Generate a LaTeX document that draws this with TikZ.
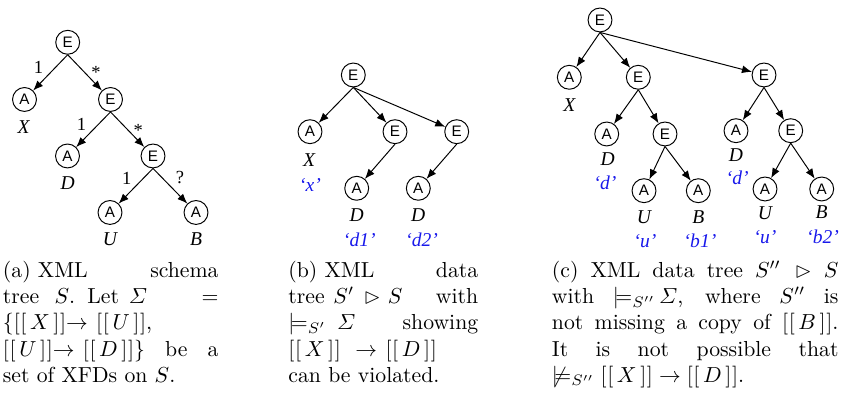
\documentclass[tikz,border=0pt]{standalone}
\usepackage{amsmath,amssymb}
\usepackage{fontspec}
\newfontfamily\nodefont{Liberation Sans}
\newfontfamily\labfont{Liberation Serif}
\usetikzlibrary{arrows.meta}
\definecolor{valblue}{RGB}{25,25,235}
\newcommand{\dbr}[1]{[\kern0.3pt[\,#1\,]\kern0.3pt]}
\newcommand{\capl}[2]{\hbox to #1{#2}}
\newcommand{\capsp}[1]{\hskip 3.33pt plus #1fil\relax}
\begin{document}
\begin{tikzpicture}[x=0.46pt,y=-0.46pt,
  enode/.style={circle,draw,line width=0.45pt,minimum size=11pt,inner sep=0pt,font=\nodefont\fontsize{7}{8}\selectfont},
  edge/.style={line width=0.45pt,-{Latex[length=4.6pt,width=3.6pt]}},
  lab/.style={inner sep=0pt,font=\labfont\itshape\fontsize{9}{10}\selectfont},
  val/.style={lab,text=valblue},
  elab/.style={inner sep=0pt,font=\labfont\fontsize{8.5}{9}\selectfont},
  capline/.style={anchor=base west,inner sep=0pt,font=\fontsize{10}{12}\selectfont}]
\useasboundingbox (0,0) rectangle (851,406);

% ---------- tree (a)
\node[enode] (ra) at (67.7,42.3) {E};
\node[enode] (a1) at (24.5,99.5) {A};
\node[enode] (a2) at (110.5,99.5) {E};
\node[enode] (a21) at (67.5,156) {A};
\node[enode] (a22) at (153,156) {E};
\node[enode] (a221) at (110,212.5) {A};
\node[enode] (a222) at (196,212.5) {A};
\node[lab] (lX) at (23.5,126.7) {X};
\node[lab] (lD) at (67.7,182.7) {D};
\node[lab] (lU) at (110,239.3) {U};
\node[lab] (lB) at (196,239.3) {B};
\draw[edge] (ra.south) -- (a1);
\draw[edge] (ra.south) -- (a2);
\draw[edge] (a2.south) -- (a21);
\draw[edge] (a2.south) -- (a22);
\draw[edge] (a22.south) -- (a221);
\draw[edge] (a22.south) -- (a222);
\node[elab] (e1) at (38.5,67.5) {1};
\node[elab] (e2) at (96,72) {*};
\node[elab] (e3) at (81.5,124.5) {1};
\node[elab] (e4) at (138.3,130) {*};
\node[elab] (e5) at (126.7,178) {1};
\node[elab] (e6) at (180,178) {?};

% ---------- tree (b)
\node[enode] (rb) at (353.3,75) {E};
\node[enode] (b1) at (310,131.7) {A};
\node[enode] (b2) at (395,131.7) {E};
\node[enode] (b3) at (456.7,131.7) {E};
\node[enode] (b21) at (356.7,188.3) {A};
\node[enode] (b31) at (418.3,188.3) {A};
\node[lab] (bX) at (309,160) {X};
\node[val] (bx) at (310,185) {‘x’};
\node[lab] (bD1) at (356.7,215) {D};
\node[val] (bd1) at (359.3,240) {‘d1’};
\node[lab] (bD2) at (418.3,215) {D};
\node[val] (bd2) at (421.7,240) {‘d2’};
\draw[edge] (rb.south) -- (b1);
\draw[edge] (rb.south) -- (b2);
\draw[edge] (rb.south) -- (b3);
\draw[edge] (b2.south) -- (b21);
\draw[edge] (b3.south) -- (b31);

% ---------- tree (c)
\node[enode] (rc) at (600,20) {E};
\node[enode] (c1) at (569.3,77.3) {A};
\node[enode] (c2) at (638.3,77.3) {E};
\node[enode] (c3) at (764,75) {E};
\node[enode] (c21) at (606.7,134) {A};
\node[enode] (c22) at (665,134) {E};
\node[enode] (c221) at (644,190.7) {A};
\node[enode] (c222) at (698.3,190.7) {A};
\node[enode] (c31) at (736,130.7) {A};
\node[enode] (c32) at (790.7,130.7) {E};
\node[enode] (c321) at (765,189) {A};
\node[enode] (c322) at (821.7,189) {A};
\node[lab] (cX) at (569.3,105) {X};
\node[lab] (cD1) at (607.7,159.3) {D};
\node[val] (cd1) at (605,182.7) {‘d’};
\node[lab] (cU1) at (644,217.3) {U};
\node[val] (cu1) at (645,240.7) {‘u’};
\node[lab] (cB1) at (698.3,217.3) {B};
\node[val] (cb1) at (700,240.7) {‘b1’};
\node[lab] (cD2) at (736,155) {D};
\node[val] (cd2) at (737.3,178.3) {‘d’};
\node[lab] (cU2) at (765,213.3) {U};
\node[val] (cu2) at (765,237.3) {‘u’};
\node[lab] (cB2) at (821.7,212.3) {B};
\node[val] (cb2) at (822.7,237.3) {‘b2’};
\draw[edge] (rc.south) -- (c1);
\draw[edge] (rc.south) -- (c2);
\draw[edge] (rc.south) -- (c3);
\draw[edge] (c2.south) -- (c21);
\draw[edge] (c2.south) -- (c22);
\draw[edge] (c22.south) -- (c221);
\draw[edge] (c22.south) -- (c222);
\draw[edge] (c3.south) -- (c31);
\draw[edge] (c3.south) -- (c32);
\draw[edge] (c32.south) -- (c321);
\draw[edge] (c32.south) -- (c322);

% ---------- captions
\node[capline] (ca1) at (2.5,277.5) {\capl{99.2pt}{(a) XML\hfill schema}};
\node[capline] (ca2) at (2.5,303.75) {\capl{99.2pt}{tree\capsp{1}$S$.\capsp{0.6}Let\capsp{0.3}$\varSigma$\capsp{5.8}$=$}};
\node[capline] (ca3) at (2.5,330) {$\{\dbr{X}{\rightarrow}\kern3.8pt\dbr{U}$,};
\node[capline] (ca4) at (2.5,356.25) {\capl{99.2pt}{$\dbr{U}{\rightarrow}\kern3.8pt\dbr{D}\}$ be a}};
\node[capline] (ca5) at (2.5,382.5) {set of XFDs on $S$.};

\node[capline] (cb1l) at (288,277.5) {\capl{87.3pt}{(b) XML\hfill data}};
\node[capline] (cb2l) at (288,303.75) {\capl{87.3pt}{tree\hskip4pt$S'\mkern8mu{\rhd}\mkern6mu S$\hfill with}};
\node[capline] (cb3l) at (288,330) {\capl{87.3pt}{${\models_{S'}}\mkern9mu\varSigma$\hfill showing}};
\node[capline] (cb4l) at (288,356.25) {$\dbr{X}\mskip12mu{\rightarrow}\mskip7mu\dbr{D}$};
\node[capline] (cb5l) at (288,382.5) {can be violated.};

\node[capline] (cc1l) at (551.5,277.5) {\capl{131.8pt}{(c) XML data tree $S''\;{\rhd}$ $S$}};
\node[capline] (cc2l) at (551.5,303.75) {\capl{131.8pt}{with ${\models_{S''}}\,\varSigma$, where $S''$ is}};
\node[capline] (cc3l) at (551.5,330) {\capl{131.8pt}{not missing a copy of $\dbr{B}$.}};
\node[capline] (cc4l) at (551.5,356.25) {\capl{131.8pt}{It is not possible that}};
\node[capline] (cc5l) at (551.5,382.5) {$\not\models_{S''}\dbr{X}\rightarrow\dbr{D}$.};
\end{tikzpicture}
\end{document}
